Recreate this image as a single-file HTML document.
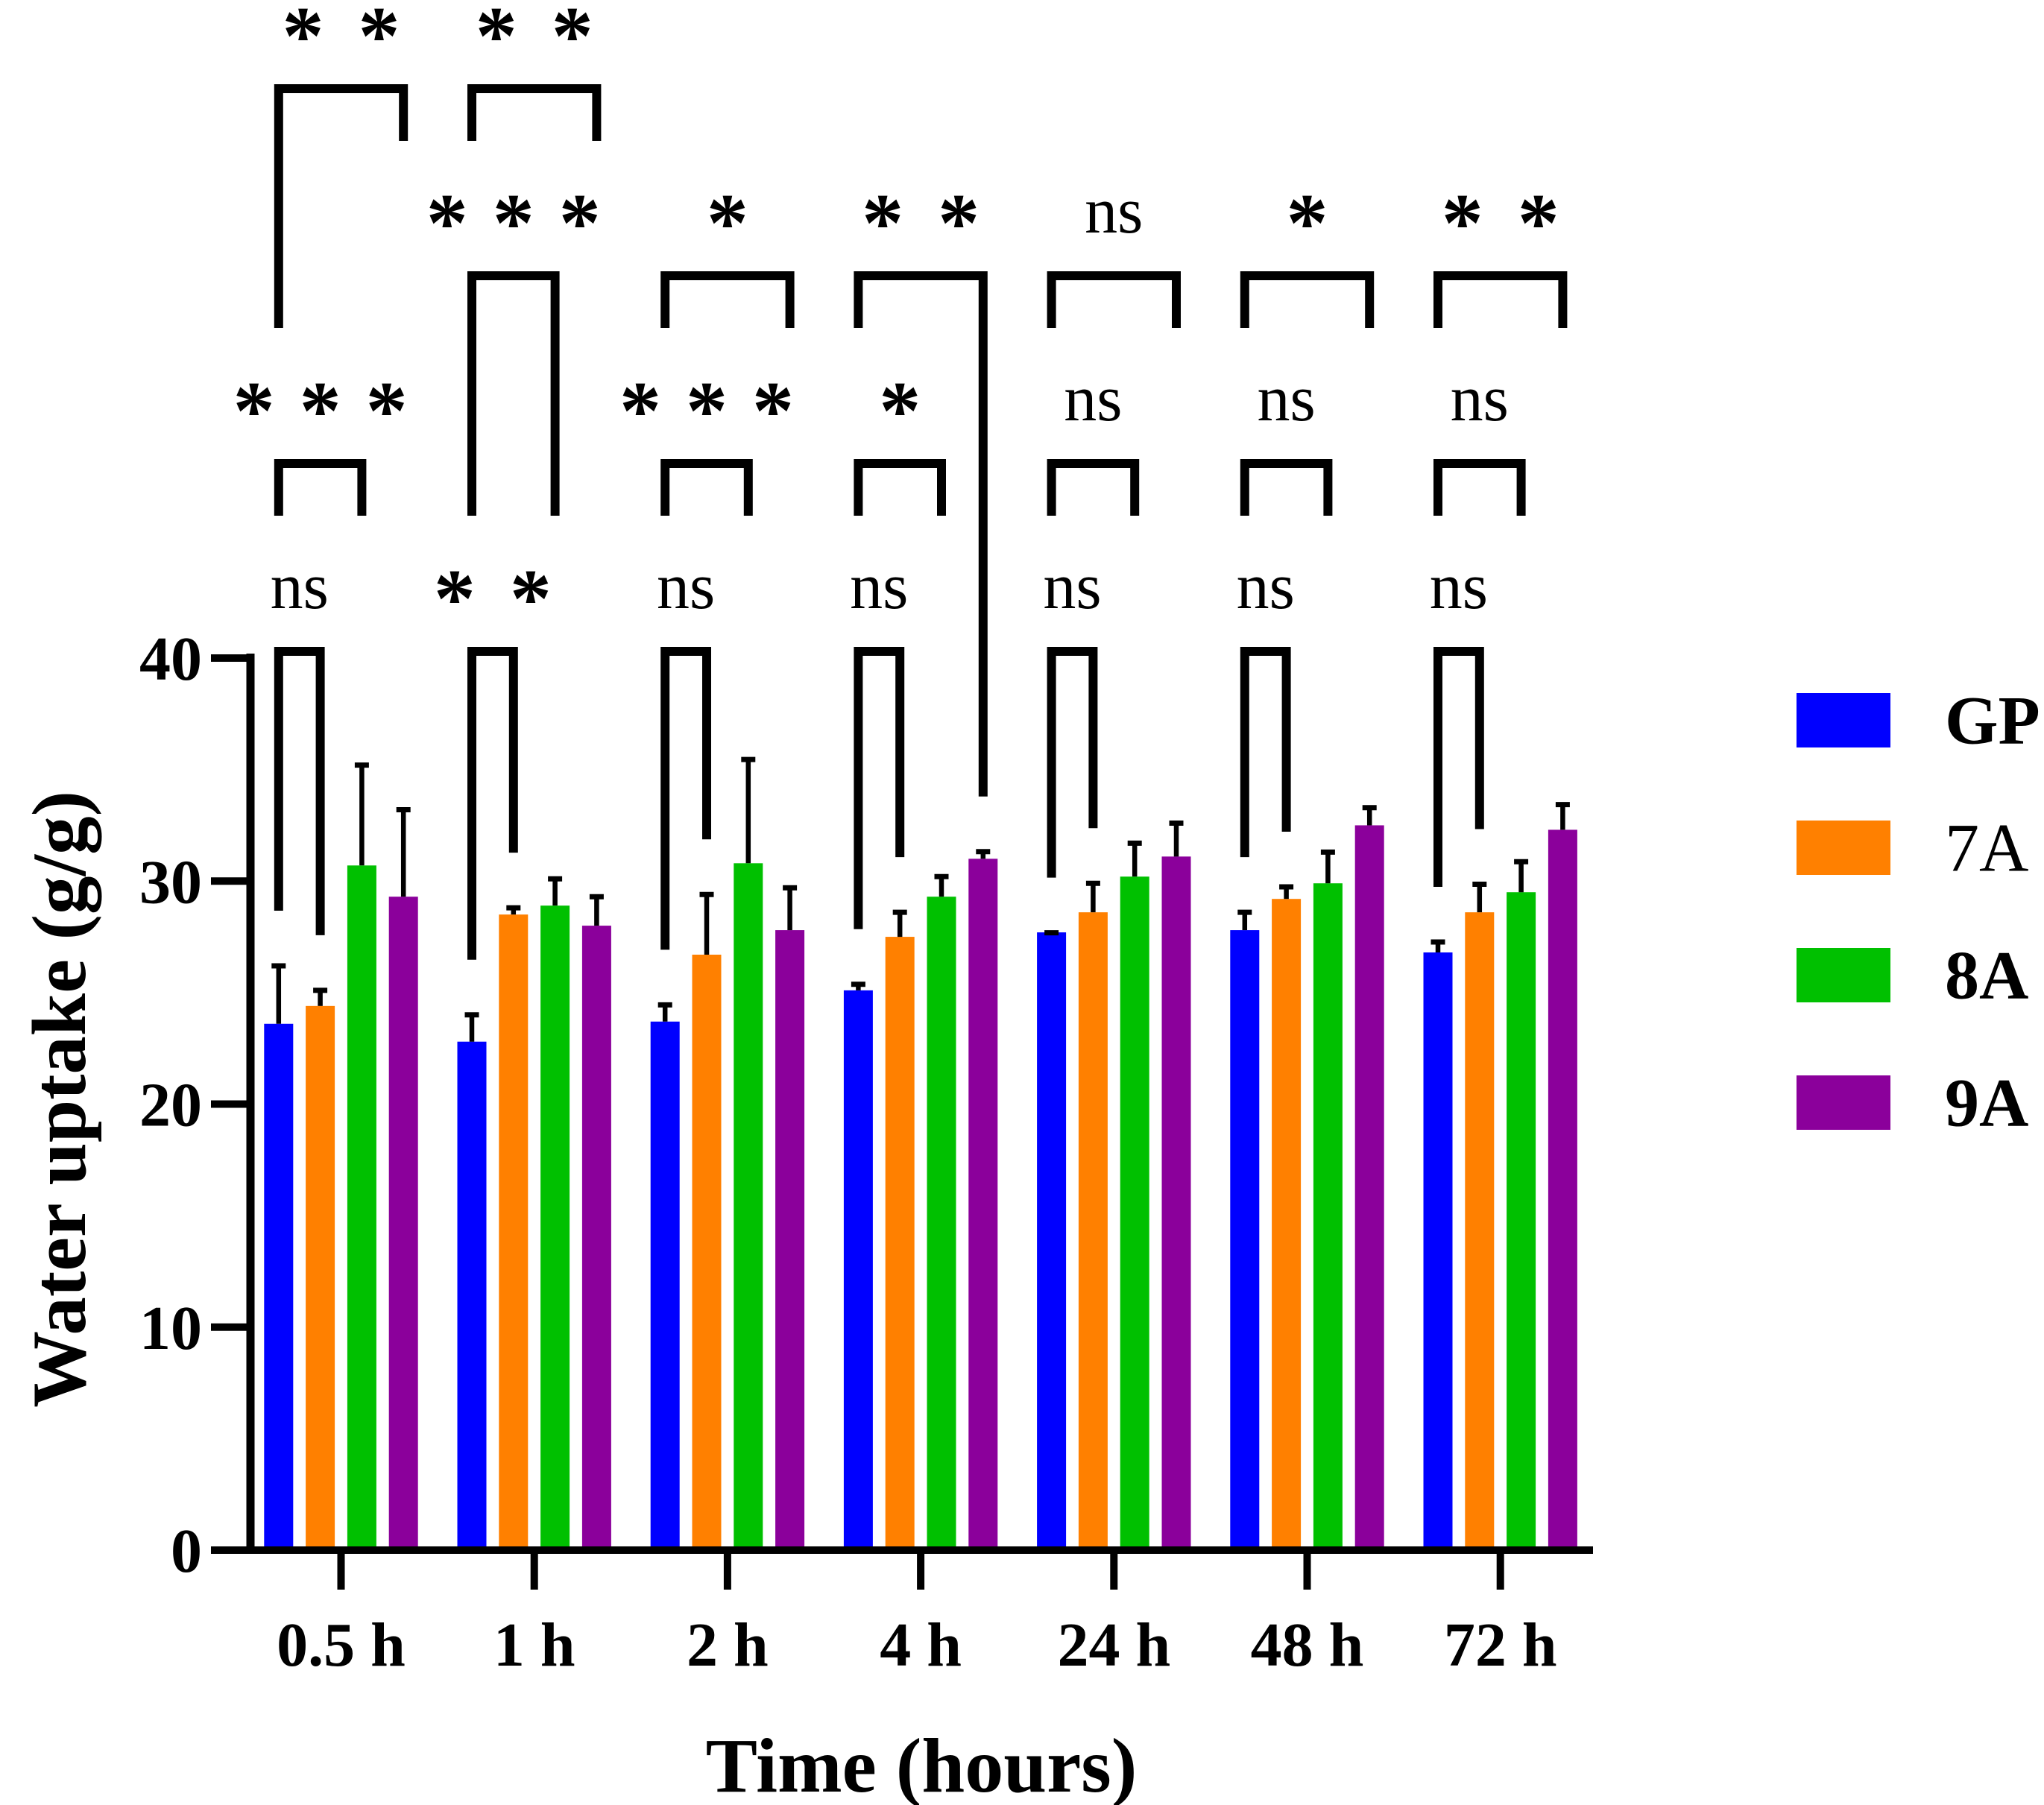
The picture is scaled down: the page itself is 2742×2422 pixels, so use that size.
<!DOCTYPE html>
<html><head><meta charset="utf-8"><style>
html,body{margin:0;padding:0;background:#fff;}
svg{display:block;}
text{font-family:"Liberation Serif",serif;}
</style></head><body>
<svg id="chart" width="2742" height="2422" viewBox="0 0 2742 2422" xmlns="http://www.w3.org/2000/svg">
<g id="plot"></g>
</svg>
<script>
const categories = ["0.5 h","1 h","2 h","4 h","24 h","48 h","72 h"];
const seriesNames = ["GP","7A","8A","9A"];
const seriesColors = ["#0000ff","#ff8000","#00c000","#8b009b"];
const gpValues = [23.6,22.8,23.7,25.1,27.7,27.8,26.8];
const a7Values = [24.4,28.5,26.7,27.5,28.6,29.2,28.6];
const a8Values = [30.7,28.9,30.8,29.3,30.2,29.9,29.5];
const a9Values = [29.3,28.0,27.8,31.0,31.1,32.5,32.3];
const gpErr = [2.7,1.3,0.85,0.37,0.08,0.9,0.57];
const a7Err = [0.8,0.4,2.8,1.2,1.4,0.64,1.36];
const a8Err = [4.6,1.3,4.75,1.0,1.6,1.5,1.47];
const a9Err = [4.0,1.4,2.0,0.42,1.6,0.89,1.23];
const yTicks = [0,10,20,30,40];
const legendLabels = ["GP","7A","8A","9A"];
// brackets: group, series a, series b, level, label, left-leg end level ('bar' = to bar), right-leg end
const brackets = [
 [0,0,1,1,"ns","bar","bar"],[0,0,2,2,"***",2,2],[0,0,3,4,"**",3,4],
 [1,0,1,1,"**","bar","bar"],[1,0,2,3,"***",2,2],[1,0,3,4,"**",4,4],
 [2,0,1,1,"ns","bar","bar"],[2,0,2,2,"***",2,2],[2,0,3,3,"*",3,3],
 [3,0,1,1,"ns","bar","bar"],[3,0,2,2,"*",2,2],[3,0,3,3,"**",3,"bar"],
 [4,0,1,1,"ns","bar","bar"],[4,0,2,2,"ns",2,2],[4,0,3,3,"ns",3,3],
 [5,0,1,1,"ns","bar","bar"],[5,0,2,2,"ns",2,2],[5,0,3,3,"*",3,3],
 [6,0,1,1,"ns","bar","bar"],[6,0,2,2,"ns",2,2],[6,0,3,3,"**",3,3]
];

const values=[gpValues,a7Values,a8Values,a9Values];
const errs=[gpErr,a7Err,a8Err,a9Err];
const NS="http://www.w3.org/2000/svg";
const plot=document.getElementById('plot');
const y0=2080, yPerUnit=(2080-883)/40;
function yScale(v){return y0-v*yPerUnit;}
function groupX(i){return 457.5+i*259.2;}
function barX(i,s){return groupX(i)+(s-1.5)*55.8;}
const barW=39;
function mk(tag,attrs,parent){const e=document.createElementNS(NS,tag);for(const k in attrs)e.setAttribute(k,attrs[k]);(parent||plot).appendChild(e);return e;}

for(let s=0;s<4;s++){
  for(let i=0;i<categories.length;i++){
    const v=values[s][i], cx=barX(i,s);
    const r=mk('rect',{x:cx-barW/2,y:yScale(v),width:barW,height:y0-yScale(v),fill:seriesColors[s]});
    
    
    const et=yScale(v+errs[s][i]);
    const l=mk('line',{x1:cx,x2:cx,y1:yScale(v),y2:et,stroke:'#000','stroke-width':6.5});
    
    
    const c=mk('line',{x1:cx-9.5,x2:cx+9.5,y1:et+3,y2:et+3,stroke:'#000','stroke-width':7});
    
    
  }
}
const ya=mk('line',{x1:336,x2:336,y1:877,y2:2085,stroke:'#000','stroke-width':11});


const xa=mk('line',{x1:283,x2:2137,y1:2080,y2:2080,stroke:'#000','stroke-width':10});


yTicks.forEach(t=>{
  const yy=yScale(t);
  const tk=mk('line',{x1:283,x2:336,y1:yy,y2:yy,stroke:'#000','stroke-width':10});
  
  
  const tl=mk('text',{x:271,y:yy+29,'text-anchor':'end','font-size':84,'font-weight':'bold'});
  tl.textContent=t;
  
  
});
categories.forEach((c,i)=>{
  const xx=groupX(i);
  const tk=mk('line',{x1:xx,x2:xx,y1:2080,y2:2133,stroke:'#000','stroke-width':10});
  
  
  const tl=mk('text',{x:xx,y:2235,'text-anchor':'middle','font-size':84,'font-weight':'bold'});
  tl.textContent=c;
  
  
});
const levelTop={1:874,2:622,3:370,4:119};
function errTop(i,s){return yScale(values[s][i]+errs[s][i]);}
brackets.forEach(b=>{
  const [g,a,bb,lev,lab,le0,re0]=b;
  const top=levelTop[lev];
  const xl=barX(g,a), xr=barX(g,bb);
  const le = le0==='bar' ? errTop(g,a)-71 : levelTop[le0]+70;
  const re = re0==='bar' ? errTop(g,bb)-71 : levelTop[re0]+70;
  const p=mk('path',{d:`M${xl},${le} L${xl},${top} L${xr},${top} L${xr},${re}`,fill:'none',stroke:'#000','stroke-width':12,'stroke-linejoin':'miter','stroke-linecap':'butt'});
  
  
  const cx=(xl+xr)/2;
  if(lab==='ns'){
    const t=mk('text',{x:cx,y:top-58,'text-anchor':'middle','font-size':88});
    t.textContent='ns';
    
    
  } else {
    const n=lab.length, sp=n===3?89:102;
    for(let k=0;k<n;k++){
      const t=mk('text',{x:cx+(k-(n-1)/2)*sp,y:top-33,'text-anchor':'middle','font-size':112,'font-weight':'bold','font-family':'"Liberation Sans",sans-serif'});
      t.textContent='*';
      
      
    }
  }
});
legendLabels.forEach((l,s)=>{
  const yy=930+s*171;
  const r=mk('rect',{x:2410,y:yy,width:126,height:73,fill:seriesColors[s]});
  
  
  const t=mk('text',{x:2609,y:yy+36.5+31,'font-size':92,'font-weight':s===1?'normal':'bold'});
  t.textContent=l;
  
  
});
const yt=mk('text',{x:0,y:0,'text-anchor':'middle','font-size':103,'font-weight':'bold',transform:'translate(114,1475) rotate(-90)'});
yt.textContent='Water uptake (g/g)';


const xt=mk('text',{x:1236,y:2404,'text-anchor':'middle','font-size':104,'font-weight':'bold'});
xt.textContent='Time (hours)';


</script>
</body></html>
